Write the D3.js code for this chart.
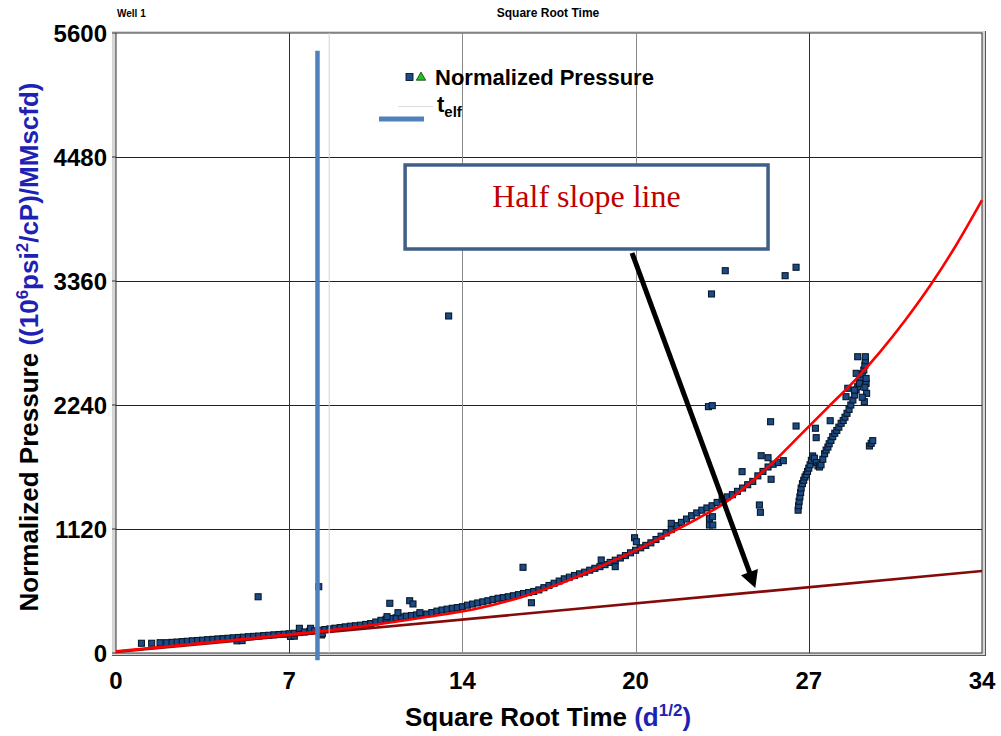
<!DOCTYPE html>
<html>
<head>
<meta charset="utf-8">
<script src="https://cdn.jsdelivr.net/npm/d3@7"></script>
<style>
body { margin: 0; background: #fff; }
svg { display: block; font-family: "Liberation Sans", Arial, sans-serif; }
</style>
</head>
<body>
<svg width="1001" height="736"></svg>
<script>
// axis ticks (ticks sit at 34/5 steps, labels are rounded)
var xTicks = [0, 6.8, 13.6, 20.4, 27.2, 34];
var xTickLabels = ["0", "7", "14", "20", "27", "34"];
var yTicks = [0, 1120, 2240, 3360, 4480, 5600];

// normalized pressure, main trend
var trendPts = [
    [1.0,88],[1.4,88],[1.73,93],[1.99,93],[2.2,96],[2.4,99],[2.6,103],[2.8,106],[3.0,110],[3.2,113],
    [3.4,116],[3.6,120],[3.8,123],[4.0,127],[4.2,130],[4.4,133],[4.6,137],[4.75,110],[4.8,140],[4.95,112],
    [5.0,143],[5.2,147],[5.4,150],[5.6,153],[5.8,157],[6.0,160],[6.2,164],[6.4,167],[6.6,170],[6.8,174],
    [6.85,150],[7.0,152],[7.0,178],[7.2,185],[7.2,223],[7.4,190],[7.6,196],[7.64,223],[7.8,200],[8.0,205],
    [8.07,163],[8.1,175],[8.2,212],[8.4,218],[8.6,224],[8.8,230],[9.0,236],[9.2,242],[9.4,246],[9.6,251],
    [9.8,258],[10.0,266],[10.2,280],[10.4,295],[10.6,305],[10.8,312],[11.0,318],[11.2,326],[11.4,333],[11.6,338],
    [11.8,344],[12.0,348],[12.2,352],[12.4,365],[12.6,378],[12.8,388],[13.0,396],[13.2,404],[13.4,410],[13.6,418],
    [13.8,432],[14.0,442],[14.2,452],[14.4,462],[14.6,472],[14.8,484],[15.0,494],[15.2,500],[15.4,508],[15.6,517],
    [15.8,527],[16.0,537],[16.2,546],[16.4,556],[16.6,570],[16.8,590],[17.0,610],[17.2,630],[17.4,650],[17.6,670],
    [17.8,685],[18.0,700],[18.2,715],[18.4,730],[18.6,748],[18.8,765],[19.0,780],[19.2,798],[19.4,818],[19.6,838],
    [19.8,858],[20.0,880],[20.2,905],[20.4,928],[20.6,950],[20.8,972],[21.0,995],[21.2,1025],[21.4,1055],[21.6,1085],
    [21.8,1115],[22.0,1150],[22.2,1180],[22.4,1210],[22.6,1240],[22.8,1265],[23.0,1290],[23.2,1310],[23.4,1330],[23.6,1360],
    [23.8,1390],[24.0,1410],[24.2,1430],[24.4,1460],[24.6,1490],[24.8,1520],[25.0,1550],[25.2,1600],[25.4,1640],[25.6,1680],
    [25.8,1705],[26.0,1720],[26.2,1737]
];

// normalized pressure, late branch
var branchPts = [
    [26.78,1290],[26.8,1330],[26.82,1370],[26.85,1410],[26.88,1450],[26.9,1490],[26.95,1530],[27.0,1560],[27.05,1590],[27.1,1610],
    [27.15,1640],[27.2,1670],[27.25,1700],[27.3,1740],[27.35,1780],[27.42,1760],[27.5,1720],[27.56,1690],[27.62,1680],[27.68,1700],
    [27.75,1750],[27.82,1800],[27.88,1833],[27.95,1860],[28.0,1890],[28.07,1920],[28.14,1954],[28.22,1985],[28.3,2010],[28.38,2040],
    [28.47,2075],[28.55,2100],[28.62,2130],[28.7,2165],[28.78,2200],[28.85,2240],[28.93,2285],[29.0,2330],[29.06,2375],[29.12,2405],
    [29.18,2440],[29.24,2480],[29.3,2520],[29.36,2556],[29.4,2600],[29.42,2640],[29.45,2436],[29.47,2345],[29.38,2270],[29.3,2310],
    [29.12,2676],[29.42,2676],[29.06,2526],[29.19,2436],[28.99,2375],[29.45,2480],[29.4,2400]
];

// scattered outliers
var outlierPts = [
    [5.58,508],[7.96,599],[10.64,328],[10.75,449],[11.07,364],[11.53,472],[11.66,443],[11.93,364],[13.06,3044],[15.98,774],
    [16.31,454],[19.05,840],[19.6,780],[20.36,1041],[20.43,1005],[21.8,1171],[23.3,1217],[23.3,1156],[23.43,1156],[23.42,1231],
    [23.26,2225],[23.41,2234],[23.38,3243],[23.92,3453],[24.58,1638],[25.26,1337],[25.3,1271],[25.33,1782],[25.6,1764],[25.72,1569],
    [25.7,2089],[26.27,3408],[26.7,3484],[26.7,2050],[27.46,2030],[27.49,1945],[28.04,2098],[28.66,2315],[28.73,2391],[29.58,1870],
    [29.65,1894],[29.71,1918]
];

// red fitted curve
var fitX = [0, 5, 8, 10, 12, 14.28, 15.97, 17.5, 18.86, 20.3, 21.6, 22.8, 23.8, 25.46, 27, 28, 29, 30, 31, 32, 33, 34];
var fitY = [15, 125, 195, 250, 318, 406, 509, 632, 765, 915, 1066, 1210, 1340, 1650, 2000, 2230, 2460, 2720, 3010, 3330, 3690, 4090];

// half slope line
var halfX = [0, 34];
var halfY = [10, 740];

// t_elf marker line and its faint companion
var telfX = 7.91;
var telfY = [-65, 5440];
var faintX = 8.37;

// annotation (data units)
var boxX = [11.35, 25.6];
var boxY = [3649, 4408];
var labelPos = [18.47, 4028];
var arrowFrom = [20.26, 3613];
var arrowTo = [25.1, 587];

var svg = d3.select("svg");

var x = d3.scaleLinear().domain([0, 34]).range([116, 982]);
var y = d3.scaleLinear().domain([0, 5600]).range([653, 33]);

// frame with grey bevel
svg.append("rect").attr("x", 112).attr("y", 31).attr("width", 874).attr("height", 625).attr("fill", "#d6d6d6");
svg.append("line").attr("x1", 985.5).attr("x2", 985.5).attr("y1", 31).attr("y2", 656).attr("stroke", "#555").attr("stroke-width", 1);
svg.append("line").attr("x1", 112).attr("x2", 986).attr("y1", 655.5).attr("y2", 655.5).attr("stroke", "#555").attr("stroke-width", 1);
svg.append("rect")
    .attr("x", x(0)).attr("y", y(5600))
    .attr("width", x(34) - x(0)).attr("height", y(0) - y(5600))
    .attr("fill", "#fff").attr("stroke", "#333").attr("stroke-width", 1);

// grid
svg.selectAll(".hgrid").data(yTicks.slice(1, 5)).enter().append("line")
    .attr("class", "hgrid")
    .attr("x1", x(0)).attr("x2", x(34))
    .attr("y1", function(d) { return Math.round(y(d)) + 0.5; })
    .attr("y2", function(d) { return Math.round(y(d)) + 0.5; })
    .attr("stroke", "#222").attr("stroke-width", 1);

svg.selectAll(".vgrid").data(xTicks.slice(1, 5)).enter().append("line")
    .attr("class", "vgrid")
    .attr("x1", function(d) { return Math.round(x(d)) + 0.5; })
    .attr("x2", function(d) { return Math.round(x(d)) + 0.5; })
    .attr("y1", y(5600)).attr("y2", y(0))
    .attr("stroke", function(d, i) { return (i == 1 || i == 2) ? "#8a8a8a" : "#333"; })
    .attr("stroke-width", 1);

// y tick marks + labels
svg.selectAll(".ytick").data(yTicks).enter().append("line")
    .attr("class", "ytick")
    .attr("x1", x(0) - 4).attr("x2", x(0))
    .attr("y1", function(d) { return y(d); }).attr("y2", function(d) { return y(d); })
    .attr("stroke", "#333");

svg.selectAll(".ylab").data(yTicks).enter().append("text")
    .attr("class", "ylab")
    .attr("x", 107)
    .attr("y", function(d) { return y(d); })
    .attr("dy", "0.36em")
    .attr("text-anchor", "end")
    .style("font-size", "24px").style("font-weight", "bold")
    .text(function(d) { return d; });

svg.selectAll(".xlab").data(xTicks).enter().append("text")
    .attr("class", "xlab")
    .attr("x", function(d) { return x(d); })
    .attr("y", 689)
    .attr("text-anchor", "middle")
    .style("font-size", "24px").style("font-weight", "bold")
    .text(function(d, i) { return xTickLabels[i]; });

// scatter
var allPts = trendPts.concat(branchPts).concat(outlierPts);
var ms = 6;
svg.selectAll(".pt").data(allPts).enter().append("rect")
    .attr("class", "pt")
    .attr("x", function(d) { return x(d[0]) - ms / 2; })
    .attr("y", function(d) { return y(d[1]) - ms / 2; })
    .attr("width", ms).attr("height", ms)
    .attr("fill", "#1b4a86").attr("stroke", "#081828").attr("stroke-width", 1.1);

// lines
var line = d3.line()
    .x(function(d) { return x(d[0]); })
    .y(function(d) { return y(d[1]); });

svg.append("path")
    .datum(halfX.map(function(v, i) { return [v, halfY[i]]; }))
    .attr("d", line)
    .attr("fill", "none").attr("stroke", "#850a0a").attr("stroke-width", 2.6);

svg.append("path")
    .datum(fitX.map(function(v, i) { return [v, fitY[i]]; }))
    .attr("d", line.curve(d3.curveMonotoneX))
    .attr("fill", "none").attr("stroke", "#ff0000").attr("stroke-width", 2.6);

svg.append("line")
    .attr("x1", x(faintX)).attr("x2", x(faintX))
    .attr("y1", y(5600)).attr("y2", y(0))
    .attr("stroke", "#d4d4d4").attr("stroke-width", 1);

svg.append("line")
    .attr("x1", x(telfX)).attr("x2", x(telfX))
    .attr("y1", y(telfY[1])).attr("y2", y(telfY[0]))
    .attr("stroke", "#4f81bd").attr("stroke-width", 4.5);

// annotation box + label
svg.append("rect")
    .attr("x", x(boxX[0])).attr("y", y(boxY[1]))
    .attr("width", x(boxX[1]) - x(boxX[0]))
    .attr("height", y(boxY[0]) - y(boxY[1]))
    .attr("fill", "#fff").attr("stroke", "#3f5f88").attr("stroke-width", 3.5);

svg.append("text")
    .attr("x", x(labelPos[0])).attr("y", y(labelPos[1]))
    .attr("text-anchor", "middle")
    .style("font-family", "'Liberation Serif', 'Times New Roman', serif")
    .style("font-size", "32px").style("fill", "#c00000")
    .text("Half slope line");

// arrow
var ax0 = x(arrowFrom[0]), ay0 = y(arrowFrom[1]);
var ax1 = x(arrowTo[0]), ay1 = y(arrowTo[1]);
var len = Math.sqrt((ax1 - ax0) * (ax1 - ax0) + (ay1 - ay0) * (ay1 - ay0));
var ux = (ax1 - ax0) / len, uy = (ay1 - ay0) / len;
var headL = 17, headW = 9;
var bx = ax1 - ux * headL, by = ay1 - uy * headL;
svg.append("line")
    .attr("x1", ax0).attr("y1", ay0)
    .attr("x2", bx + ux * 2).attr("y2", by + uy * 2)
    .attr("stroke", "#000").attr("stroke-width", 5);
svg.append("path")
    .attr("d", "M" + ax1 + "," + ay1 +
        "L" + (bx - uy * headW) + "," + (by + ux * headW) +
        "L" + (bx + uy * headW) + "," + (by - ux * headW) + "Z")
    .attr("fill", "#000");

// legend
svg.append("rect").attr("x", 406).attr("y", 73.5).attr("width", 7).attr("height", 7)
    .attr("fill", "#1b4a86").attr("stroke", "#081828").attr("stroke-width", 0.9);
svg.append("path").attr("d", d3.symbol(d3.symbolTriangle).size(38)())
    .attr("transform", "translate(421,77.5)")
    .attr("fill", "#22c022").attr("stroke", "#0a3a0a").attr("stroke-width", 0.8);
svg.append("text").attr("x", 435).attr("y", 85)
    .style("font-size", "22px").style("font-weight", "bold")
    .text("Normalized Pressure");

svg.append("line").attr("x1", 398).attr("x2", 433).attr("y1", 106.5).attr("y2", 106.5)
    .attr("stroke", "#dcdcdc").attr("stroke-width", 1);
svg.append("line").attr("x1", 379).attr("x2", 424).attr("y1", 119).attr("y2", 119)
    .attr("stroke", "#4f81bd").attr("stroke-width", 5);
var telfLab = svg.append("text").attr("x", 437).attr("y", 112)
    .style("font-size", "22px").style("font-weight", "bold");
telfLab.append("tspan").text("t");
telfLab.append("tspan").attr("dy", 5).style("font-size", "15px").text("elf");

// titles
svg.append("text").attr("x", 117).attr("y", 17)
    .style("font-family", "'Liberation Sans Narrow', 'Liberation Sans', Arial, sans-serif")
    .style("font-size", "10px").style("font-weight", "bold")
    .text("Well 1");
svg.append("text").attr("x", 548).attr("y", 17).attr("text-anchor", "middle")
    .style("font-size", "12px").style("font-weight", "bold")
    .text("Square Root Time");

var xt = svg.append("text").attr("x", 548).attr("y", 726).attr("text-anchor", "middle")
    .style("font-size", "26px").style("font-weight", "bold");
xt.append("tspan").text("Square Root Time ");
xt.append("tspan").style("fill", "#1e22b4").text("(d");
xt.append("tspan").style("fill", "#1e22b4").style("font-size", "17px").attr("dy", -10).text("1/2");
xt.append("tspan").style("fill", "#1e22b4").attr("dy", 10).text(")");

var yt = svg.append("text").attr("transform", "translate(38,347) rotate(-90)")
    .attr("text-anchor", "middle")
    .style("font-size", "26px").style("font-weight", "bold");
yt.append("tspan").text("Normalized Pressure ");
yt.append("tspan").style("fill", "#1e22b4").text("((10");
yt.append("tspan").style("fill", "#1e22b4").style("font-size", "17px").attr("dy", -10).text("6");
yt.append("tspan").style("fill", "#1e22b4").attr("dy", 10).text("psi");
yt.append("tspan").style("fill", "#1e22b4").style("font-size", "17px").attr("dy", -10).text("2");
yt.append("tspan").style("fill", "#1e22b4").attr("dy", 10).text("/cP)/MMscfd)");
</script>
</body>
</html>
